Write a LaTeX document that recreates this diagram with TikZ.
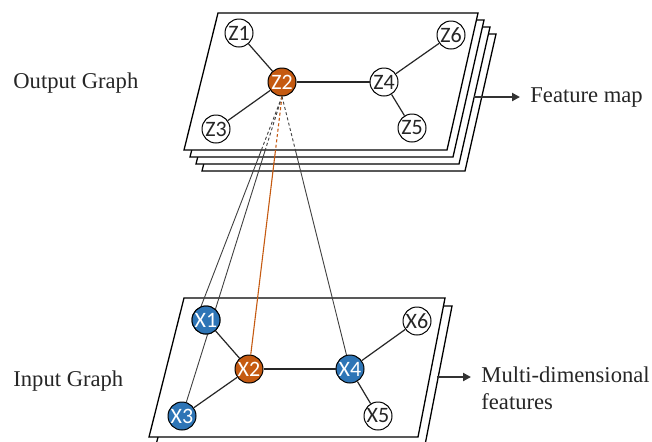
\documentclass[tikz,border=0pt]{standalone}
\usepackage{fontspec}
\setmainfont{Liberation Serif}
\newfontfamily\nodefont{Carlito}
\usetikzlibrary{arrows.meta}

\definecolor{gorange}{HTML}{C55A11}
\definecolor{gblue}{HTML}{2E75B6}
\definecolor{glink}{HTML}{404040}

\begin{document}
\begin{tikzpicture}[x=0.5pt, y=-0.5pt,
  plane/.style={draw=black, fill=white, line width=0.65pt},
  vtx/.style={circle, draw=black, line width=0.5pt, fill=white, minimum size=14pt, inner sep=0pt, font=\nodefont\fontsize{11}{11}\selectfont, text=black!85},
  hot/.style={vtx, fill=gorange, text=white},
  cold/.style={vtx, fill=gblue, text=white},
  edge/.style={draw=black!85, line width=0.6pt},
  link/.style={draw=glink, line width=0.45pt},
  hotlink/.style={draw=gorange, line width=0.55pt},
  behind/.style={dash pattern=on 1.5pt off 1.2pt},
  label/.style={font=\fontsize{11.3}{13.5}\selectfont, text=black!85, inner sep=0pt},
  outarrow/.style={draw=black!80, line width=1.1pt, shorten >=5pt, -{Triangle[length=4pt, width=4pt]}}
]
\useasboundingbox (0,0) rectangle (652,441);

% Output planes (stack of feature maps)
\foreach \k in {3,2,1} {
  \draw[plane, shift={(6*\k,7*\k)}] (218,13) -- (478,13) -- (447,150) -- (184,150) -- cycle;
}
\draw[plane] (218,13) -- (478,13) -- (447,150) -- (184,150) -- cycle;

% Input planes
\draw[plane, shift={(7,8)}] (184,298) -- (445,298) -- (418,437) -- (149,437) -- cycle;
\draw[plane] (184,298) -- (445,298) -- (418,437) -- (149,437) -- cycle;

% Output graph nodes
\node[vtx] (z1) at (239,33) {Z1};
\node[hot] (z2) at (282,82) {Z2};
\node[vtx] (z3) at (216,129) {Z3};
\node[vtx] (z4) at (384,82) {Z4};
\node[vtx] (z5) at (412,128) {Z5};
\node[vtx] (z6) at (451,35) {Z6};

% Input graph nodes
\node[cold] (x1) at (206,320) {X1};
\node[hot]  (x2) at (249,369) {X2};
\node[cold] (x3) at (182,416) {X3};
\node[cold] (x4) at (350,369) {X4};
\node[vtx]  (x5) at (378,416) {X5};
\node[vtx]  (x6) at (417,321) {X6};

% Links from Z2 down to its receptive field (dashed behind the top plane)
\begin{scope}
  \clip (0,0) rectangle (652,150);
  \draw[link, behind] (z2.south) -- (x1.110);
  \draw[link, behind] (z2.south) -- (x3);
  \draw[hotlink, behind] (z2.south) -- (x2);
  \draw[link, behind] (z2.south) -- (x4);
\end{scope}
\begin{scope}
  \clip (0,150) rectangle (652,441);
  \draw[link] (z2.south) -- (x1.110);
  \draw[link] (z2.south) -- (x3);
  \draw[hotlink] (z2.south) -- (x2);
  \draw[link] (z2.south) -- (x4);
\end{scope}

% Redraw X1 over the link that runs through it
\node[cold] at (x1) {X1};

% Graph edges
\draw[edge] (z1) -- (z2);
\draw[edge] (z2) -- (z3);
\draw[edge] (z2) -- (z4);
\draw[edge] (z4) -- (z6);
\draw[edge] (z4) -- (z5);
\draw[edge] (x1) -- (x2);
\draw[edge] (x2) -- (x3);
\draw[edge] (x2) -- (x4);
\draw[edge] (x4) -- (x6);
\draw[edge] (x4) -- (x5);

% Labels
\node[label, anchor=west] (outlbl) at (13,83) {Output Graph};
\node[label, anchor=west] (inlbl) at (13,381) {Input Graph};

% Arrows to the right
\coordinate (fmstart) at (474,97);
\node[label, anchor=west] (fmap) at (530,97) {Feature map};
\draw[outarrow] (fmstart) -- (fmap.west);

\coordinate (mdstart) at (437,377);
\node[label, anchor=north west, align=left] (mdim) at (481,366) {Multi-dimensional\\features};
\draw[outarrow] (mdstart) -- (mdstart -| mdim.west);

\end{tikzpicture}
\end{document}
